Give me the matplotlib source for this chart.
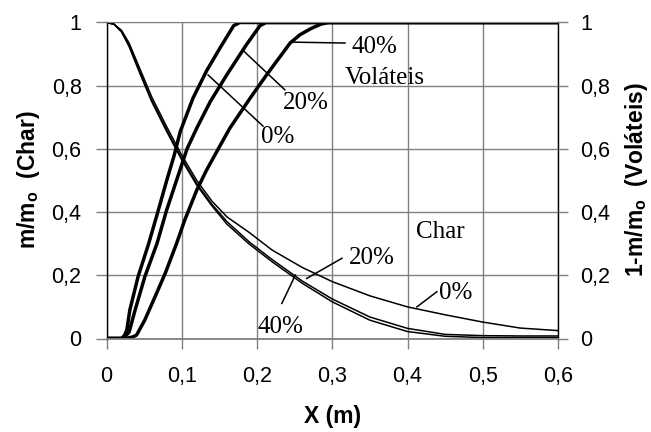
import matplotlib
matplotlib.use('Agg')
import matplotlib.pyplot as plt
from matplotlib.ticker import FuncFormatter

plt.rcParams['font.family'] = ['Liberation Sans', 'DejaVu Sans']
plt.rcParams['mathtext.fontset'] = 'custom'
plt.rcParams['mathtext.rm'] = 'Liberation Sans'
plt.rcParams['mathtext.bf'] = 'Liberation Sans:bold'

# ---------------- data ----------------
# Char (thin curves): m/mo vs X
char_x = [0, 0.01, 0.02, 0.03, 0.045, 0.06, 0.08, 0.10, 0.12, 0.14, 0.16,
          0.19, 0.22, 0.26, 0.30, 0.35, 0.40, 0.45, 0.50, 0.55, 0.60]
char_0 = [1, 0.995, 0.975, 0.935, 0.85, 0.765, 0.67, 0.58, 0.50, 0.435, 0.385,
          0.335, 0.28, 0.225, 0.18, 0.135, 0.10, 0.075, 0.052, 0.033, 0.025]
char_20 = [1, 0.995, 0.972, 0.928, 0.84, 0.755, 0.66, 0.57, 0.49, 0.425, 0.37,
           0.305, 0.25, 0.182, 0.125, 0.068, 0.032, 0.013, 0.009, 0.008, 0.008]
char_40 = [1, 0.994, 0.970, 0.924, 0.835, 0.75, 0.655, 0.565, 0.485, 0.42, 0.362,
           0.298, 0.243, 0.175, 0.116, 0.058, 0.022, 0.007, 0.003, 0.003, 0.003]

# Volateis (thick curves): 1 - m/mo vs X
vol0_x = [0, 0.02, 0.024, 0.027, 0.031, 0.042, 0.056, 0.069, 0.080, 0.090, 0.098,
          0.115, 0.133, 0.151, 0.169, 0.177, 0.60]
vol0_y = [0, 0, 0.01, 0.027, 0.09, 0.196, 0.30, 0.407, 0.50, 0.58, 0.655,
          0.761, 0.847, 0.92, 0.99, 1, 1]
vol20_x = [0, 0.022, 0.03, 0.038, 0.051, 0.067, 0.080, 0.093, 0.107, 0.120, 0.138,
           0.160, 0.186, 0.204, 0.212, 0.60]
vol20_y = [0, 0, 0.02, 0.09, 0.196, 0.30, 0.407, 0.50, 0.60, 0.666, 0.75,
           0.835, 0.93, 0.99, 1, 1]
vol40_x = [0, 0.025, 0.035, 0.040, 0.051, 0.0645, 0.078, 0.093, 0.104, 0.120, 0.133,
           0.149, 0.164, 0.191, 0.213, 0.231, 0.244, 0.257, 0.271, 0.285, 0.295, 0.60]
vol40_y = [0, 0, 0.005, 0.011, 0.059, 0.132, 0.206, 0.30, 0.375, 0.47, 0.533,
           0.602, 0.666, 0.761, 0.835, 0.893, 0.935, 0.961, 0.98, 0.995, 1, 1]

x_ticks = [0, 0.1, 0.2, 0.3, 0.4, 0.5, 0.6]
y_ticks = [0, 0.2, 0.4, 0.6, 0.8, 1]

# ---------------- figure ----------------
W, H = 651, 432
fig = plt.figure(figsize=(W / 100, H / 100), dpi=100)
L, R, T, B = 106.5, 558, 22.5, 338.5
ax = fig.add_axes([L / W, 1 - B / H, (R - L) / W, (B - T) / H])

grid_c = '#808080'
ax.set_xlim(0, 0.6)
ax.set_ylim(0, 1)
ax.set_xticks(x_ticks)
ax.set_yticks(y_ticks)
ax.grid(True, color=grid_c, lw=1.0)
ax.set_axisbelow(True)

fmt = FuncFormatter(lambda v, p: ('%g' % round(v, 2)).replace('.', ','))
ax.xaxis.set_major_formatter(fmt)
ax.yaxis.set_major_formatter(fmt)

for k in ['left', 'right']:
    ax.spines[k].set_color('black')
    ax.spines[k].set_linewidth(1.0)
ax.spines['top'].set_color(grid_c)
ax.spines['bottom'].set_color(grid_c)
ax.spines['bottom'].set_linewidth(1.3)

ax.tick_params(axis='x', direction='out', length=7, width=1, color=grid_c,
               pad=13, labelsize=15.5)
ax.tick_params(axis='y', direction='out', length=8, width=1, color=grid_c,
               pad=10, labelsize=15.5)

ax2 = ax.twinx()
ax2.set_ylim(0, 1)
ax2.set_yticks(y_ticks)
ax2.yaxis.set_major_formatter(fmt)
ax2.tick_params(axis='y', direction='out', length=7, width=1, color=grid_c,
                pad=9, labelsize=15.5)
for s in ax2.spines.values():
    s.set_visible(False)

# curves
for yv in (char_0, char_20, char_40):
    ax.plot(char_x, yv, color='black', lw=1.1, solid_joinstyle='round')
for xv, yv in ((vol0_x, vol0_y), (vol20_x, vol20_y), (vol40_x, vol40_y)):
    ax.plot(xv, yv, color='black', lw=2.5, solid_joinstyle='round',
            solid_capstyle='butt')

# annotations (serif)
sf = dict(family=['Liberation Serif', 'DejaVu Serif'], fontsize=18, color='black',
          va='center', ha='left')
lk = dict(color='black', lw=1.1)
ax.plot([0.244, 0.317], [0.938, 0.935], **lk)
ax.text(0.325, 0.923, '40%', **sf)
ax.text(0.316, 0.824, 'Voláteis', **sf)
ax.plot([0.183, 0.237], [0.908, 0.787], **lk)
ax.text(0.234, 0.744, '20%', **sf)
ax.plot([0.135, 0.208], [0.834, 0.672], **lk)
ax.text(0.205, 0.639, '0%', **sf)

ax.text(0.411, 0.337, 'Char', **sf)
ax.plot([0.266, 0.313], [0.19, 0.254], **lk)
ax.text(0.322, 0.254, '20%', **sf)
ax.plot([0.251, 0.233], [0.201, 0.111], **lk)
ax.text(0.201, 0.037, '40%', **sf)
ax.plot([0.4125, 0.439], [0.10, 0.148], **lk)
ax.text(0.442, 0.143, '0%', **sf)

# axis labels
lab = dict(fontsize=16.5, fontweight='bold', color='black')
fig.text(28 / W, 1 - 180 / H, r'm/m$_\mathbf{o}$  (Char)', rotation=90,
         ha='center', va='center', **lab)
fig.text(637 / W, 1 - 180 / H, r'1-m/m$_\mathbf{o}$  (Voláteis)', rotation=90,
         ha='center', va='center', **lab)
fig.text((L + R) / 2 / W, 1 - 417 / H, 'X (m)', ha='center', va='center', **lab)

fig.savefig('out.png', dpi=100)
